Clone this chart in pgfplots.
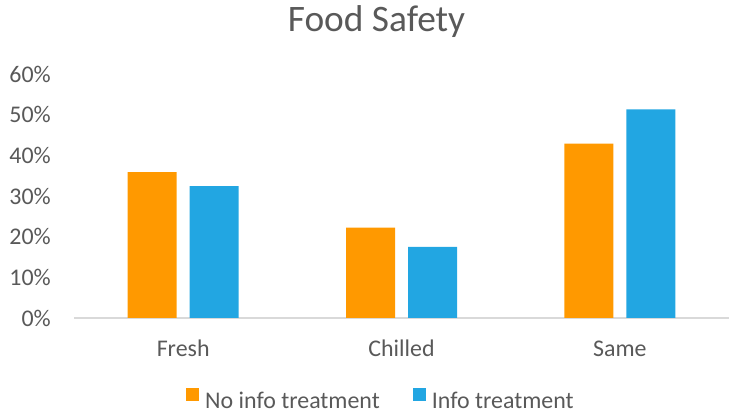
\documentclass[border=0pt]{standalone}
\usepackage{pgfplots}
\pgfplotsset{compat=1.18}
\usepackage{fontspec}
\setmainfont{Carlito}
\definecolor{txt}{HTML}{595959}
\definecolor{baro}{HTML}{FF9900}
\definecolor{barb}{HTML}{22A6E2}
\definecolor{axl}{HTML}{D9D9D9}
\pgfplotsset{sqleg/.style={legend image code/.code={\fill[##1] (0bp,-0.5bp) rectangle (13bp,12.5bp);}}}
\begin{document}
\begin{tikzpicture}
\useasboundingbox (0,0) rectangle (729bp,418bp);
\begin{axis}[
  at={(74bp,100bp)}, anchor=south west,
  scale only axis, width=655bp, height=244bp,
  xmin=-0.5, xmax=2.5, ymin=0, ymax=60,
  ybar=13bp, bar width=49bp,
  axis x line*=bottom, axis y line*=left,
  x axis line style={axl, line width=1.5bp},
  y axis line style={draw=none},
  major tick length=0pt,
  xtick={0,1,2}, xticklabels={Fresh,Chilled,Same},
  ytick={0,10,20,30,40,50,60},
  yticklabel={\pgfmathprintnumber{\tick}\%},
  /pgf/number format/assume math mode=true,
  tick label style={text=txt, font=\fontsize{24}{28}\selectfont},
  yticklabel style={anchor=east, inner sep=0pt, xshift=-23bp},
  xticklabel style={anchor=base, inner sep=0pt, yshift=-38.7bp},
  legend columns=2,
  legend style={at={(0.467,-0.376)}, anchor=south, draw=none, fill=none,
    inner sep=0pt, nodes={inner sep=0pt, text=txt, font=\fontsize{24}{28}\selectfont},
    column sep=6bp, /tikz/every even column/.append style={column sep=33bp}},
]
\addplot[fill=baro, draw=none, sqleg]
  coordinates {(0,35.9) (1,22.2) (2,42.9)};
\addlegendentry{No info treatment}
\addplot[fill=barb, draw=none, sqleg]
  coordinates {(0,32.4) (1,17.5) (2,51.3)};
\addlegendentry{Info treatment}
\end{axis}
\node[anchor=base, text=txt, font=\fontsize{37.5}{43}\selectfont, inner sep=0pt] at (376.5bp,386.3bp) {Food Safety};
\end{tikzpicture}
\end{document}
